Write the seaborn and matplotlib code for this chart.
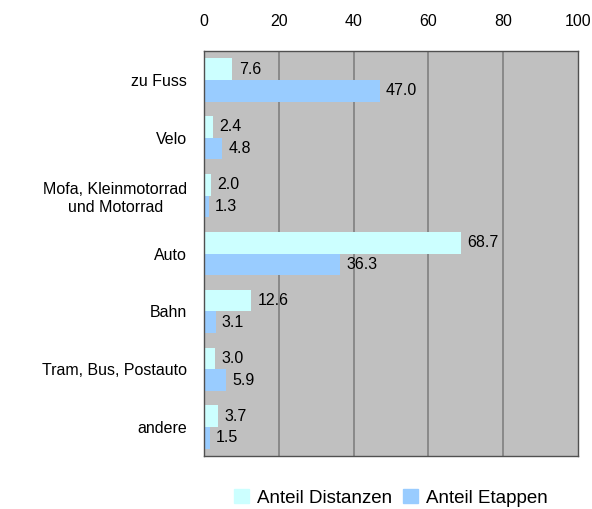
import pandas as pd
import matplotlib.pyplot as plt
import seaborn as sns

categories = ["zu Fuss", "Velo", "Mofa, Kleinmotorrad\nund Motorrad", "Auto",
              "Bahn", "Tram, Bus, Postauto", "andere"]
distanzen = [7.6, 2.4, 2.0, 68.7, 12.6, 3.0, 3.7]
etappen = [47.0, 4.8, 1.3, 36.3, 3.1, 5.9, 1.5]
series = ["Anteil Distanzen", "Anteil Etappen"]
colors = ["#CCFFFF", "#99CCFF"]

df = pd.DataFrame({
    "Verkehrsmittel": categories * 2,
    "Anteil": distanzen + etappen,
    "Serie": [series[0]] * len(categories) + [series[1]] * len(categories),
})

sns.set_style("white")
plt.rcParams['font.family'] = ['Liberation Sans', 'DejaVu Sans']
plt.rcParams['text.color'] = 'black'
plt.rcParams['xtick.color'] = 'black'
plt.rcParams['ytick.color'] = 'black'

fig = plt.figure(figsize=(5.92, 5.09), dpi=100)
ax = fig.add_axes([0.3446, 0.1041, 0.632, 0.7957])
ax.set_facecolor("#C0C0C0")

sns.barplot(data=df, y="Verkehrsmittel", x="Anteil", hue="Serie", orient="h",
            palette=colors, width=0.75, saturation=1, linewidth=0, ax=ax, legend=False)

for c in ax.containers:
    ax.bar_label(c, fmt="%.1f", padding=4.5, fontsize=11.5, color="black")

ax.set_xlim(0, 100)
ax.set_xticks([0, 20, 40, 60, 80, 100])
ax.xaxis.tick_top()
ax.tick_params(axis="x", length=0, pad=16, labelsize=11.5)
ax.tick_params(axis="y", length=0, pad=12, labelsize=11.5)
for lbl in ax.get_yticklabels():
    lbl.set_multialignment("center")
ax.set_xlabel("")
ax.set_ylabel("")
for x in [20, 40, 60, 80]:
    ax.axvline(x, color="#808080", linewidth=1.2, zorder=0.5)
for s in ax.spines.values():
    s.set_visible(True)
    s.set_color("#505050")
    s.set_linewidth(1)

handles = [plt.Rectangle((0, 0), 1, 1, color=c) for c in colors]
fig.legend(handles, series, loc="center", bbox_to_anchor=(0.66, 0.022), ncol=2,
           frameon=False, fontsize=13.5, handlelength=0.8, handleheight=0.8,
           handletextpad=0.4, columnspacing=0.6, borderpad=0)

fig.savefig("out.png", dpi=100)
